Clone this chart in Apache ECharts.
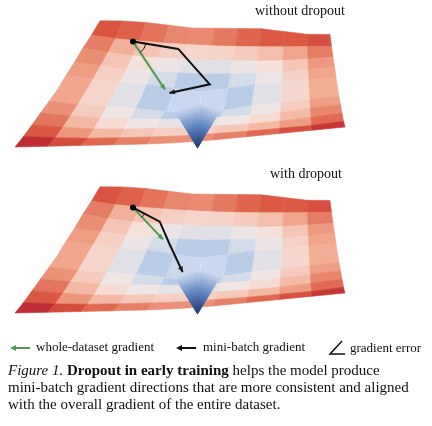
<!DOCTYPE html>
<html><head><meta charset="utf-8">
<script src="https://cdn.jsdelivr.net/npm/echarts@6/dist/echarts.min.js"></script>
<style>html,body{margin:0;background:#fff}#main{width:432px;height:426px}</style>
</head><body><div id="main"></div>
<script>
// loss surface heights, rows = back -> front, cols = left -> right
var heights = [
 [.45,.5,.5,.45,.4,.45,.5,.55,.5,.45,.5],
 [.4,.3,.25,.22,.2,.2,.22,.25,.3,.35,.4],
 [.4,.25,.15,.1,.08,.06,.08,.1,.15,.25,.35],
 [.35,.22,.1,.05,0,-.02,0,.05,.1,.2,.35],
 [.35,.2,.08,0,-.08,-.15,-.08,0,.08,.2,.3],
 [.3,.2,.06,-.02,-.15,-1.1,-.15,-.02,.06,.18,.3],
 [.35,.2,.08,0,-.08,-.15,-.08,0,.08,.2,.3],
 [.4,.25,.12,.05,0,-.02,0,.05,.12,.25,.35],
 [.45,.3,.18,.12,.1,.08,.1,.12,.18,.28,.4],
 [.5,.38,.3,.25,.22,.2,.22,.25,.3,.35,.45],
 [.6,.55,.5,.45,.4,.38,.4,.45,.5,.55,.6]
];
// gradient paths in surface (u, v) coordinates
var wholeNoDrop = [[0.2,0.2],[0.4,0.6]];
var miniNoDrop = [[0.2,0.2],[0.39,0.25],[0.55,0.56],[0.42,0.63]];
var wholeDrop = [[0.2,0.2],[0.37,0.46]];
var miniDrop = [[0.2,0.2],[0.33,0.31],[0.4,0.5],[0.48,0.75]];
var titles = ['without dropout', 'with dropout'];

var stops = [[-0.45,[25,45,105]],[-0.2,[80,120,185]],[-0.05,[195,212,236]],[0.08,[246,232,228]],[0.25,[242,172,146]],[0.4,[220,90,68]],[0.55,[180,28,45]]];
function colorOf(h){
	if(h<=stops[0][0]) h=stops[0][0];
	for(var i=1;i<stops.length;i++){
		if(h<=stops[i][0]||i==stops.length-1){
			var a=stops[i-1],b=stops[i],t=Math.min(1,(h-a[0])/(b[0]-a[0]));
			var c=a[1].map(function(x,k){return Math.round(x+(b[1][k]-x)*t)});
			return 'rgb('+c.join(',')+')';
		}
	}
}
var A=[100,32],B=[330,47],C=[15,162],D=[345,142];
function proj(u,v,h,dy){
	var x=(1-u)*(1-v)*A[0]+u*(1-v)*B[0]+(1-u)*v*C[0]+u*v*D[0];
	var y=(1-u)*(1-v)*A[1]+u*(1-v)*B[1]+(1-u)*v*C[1]+u*v*D[1];
	return [x, y-(h>0?h*25:h*48)+dy];
}
var n=heights.length-1, mid=n/2;
var cells=[];
for(var r=0;r<n;r++) for(var c=0;c<n;c++) cells.push([r,c]);
// funnel cells touch the lowest vertex; draw them last, front ones first
var funnel=[[mid,mid-1],[mid,mid],[mid-1,mid-1],[mid-1,mid]];

function cellShape(r,c,dy,funnelCell){
	var pts=[[r,c],[r,c+1],[r+1,c+1],[r+1,c]].map(function(q){return proj(q[1]/n,q[0]/n,heights[q[0]][q[1]],dy)});
	var h=(heights[r][c]+heights[r][c+1]+heights[r+1][c]+heights[r+1][c+1])/4;
	var fill=colorOf(h);
	if(funnelCell){
		var cp=proj(0.5,0.5,heights[mid][mid],dy);
		var far=pts.reduce(function(s,p){return [s[0]+p[0]/4,s[1]+p[1]/4]},[0,0]);
		fill=new echarts.graphic.LinearGradient(cp[0],cp[1],far[0],far[1],
			[{offset:0,color:'#1c2f6b'},{offset:0.5,color:'#5b82bd'},{offset:1,color:'#c9d8ee'}],true);
	}
	return {type:'polygon',shape:{points:pts},style:{fill:fill,stroke:funnelCell?null:fill,lineWidth:0.6}};
}
function surface(dy){
	return {type:'custom',coordinateSystem:'none',data:cells,silent:true,
		renderItem:function(p,api){
			var r=api.value(0),c=api.value(1);
			var isF=funnel.some(function(f){return f[0]==r&&f[1]==c});
			if(isF) return {type:'group',children:[]};
			return cellShape(r,c,dy,false);
		}};
}
function funnelSeries(dy){
	return {type:'custom',coordinateSystem:'none',data:funnel,silent:true,z:3,
		renderItem:function(p,api){return cellShape(api.value(0),api.value(1),dy,true)}};
}
function toScreen(q,dy){var p=proj(q[0],q[1],0,dy);return [p[0],p[1]-18];}
function arrow(path,dy,color,dot){
	return {type:'custom',coordinateSystem:'none',data:[0],silent:true,z:5,
		renderItem:function(){
			var pts=path.map(function(q){return toScreen(q,dy)});
			var a=pts[pts.length-2],b=pts[pts.length-1];
			var ang=Math.atan2(b[1]-a[1],b[0]-a[0]),L=6,w=0.45;
			var head=[b,[b[0]-L*Math.cos(ang-w),b[1]-L*Math.sin(ang-w)],[b[0]-L*Math.cos(ang+w),b[1]-L*Math.sin(ang+w)]];
			var ch=[{type:'polyline',shape:{points:pts},style:{stroke:color,lineWidth:2,fill:null}},
				{type:'polygon',shape:{points:head},style:{fill:color}}];
			if(dot) ch.push({type:'circle',shape:{cx:pts[0][0],cy:pts[0][1],r:3},style:{fill:'#000'}});
			return {type:'group',children:ch};
		}};
}
// small arc marking the angle between whole-dataset and first mini-batch step
function errorArc(whole,mini,dy){
	return {type:'custom',coordinateSystem:'none',data:[0],silent:true,z:6,
		renderItem:function(){
			var o=toScreen(whole[0],dy),g=toScreen(whole[1],dy),m=toScreen(mini[1],dy);
			var a1=Math.atan2(m[1]-o[1],m[0]-o[0]),a2=Math.atan2(g[1]-o[1],g[0]-o[0]);
			return {type:'arc',shape:{cx:o[0],cy:o[1],r:13,startAngle:a1,endAngle:a2},style:{stroke:'#111',lineWidth:1,fill:null}};
		}};
}
var serif='"Liberation Serif","DejaVu Serif",serif';
var chart=echarts.init(document.getElementById('main'));
chart.setOption({
	backgroundColor:'#fff',animation:false,
	series:[surface(0),funnelSeries(0),arrow(wholeNoDrop,0,'#4f9a52'),arrow(miniNoDrop,0,'#111',true),errorArc(wholeNoDrop,miniNoDrop,0),
		surface(166),funnelSeries(166),arrow(wholeDrop,166,'#4f9a52'),arrow(miniDrop,166,'#111',true),errorArc(wholeDrop,miniDrop,166)],
	graphic:[
		{type:'text',left:255,top:4,style:{text:titles[0],font:'14px '+serif,fill:'#111'}},
		{type:'text',left:270,top:167,style:{text:titles[1],font:'14px '+serif,fill:'#111'}},
		{type:'line',shape:{x1:12,y1:348,x2:30,y2:348},style:{stroke:'#4f9a52',lineWidth:2}},
		{type:'polygon',shape:{points:[[10,348],[16,345],[16,351]]},style:{fill:'#4f9a52'}},
		{type:'text',left:36,top:341,style:{text:'whole-dataset gradient',font:'13px '+serif,fill:'#111'}},
		{type:'line',shape:{x1:178,y1:348,x2:196,y2:348},style:{stroke:'#111',lineWidth:2}},
		{type:'polygon',shape:{points:[[176,348],[182,345],[182,351]]},style:{fill:'#111'}},
		{type:'text',left:203,top:341,style:{text:'mini-batch gradient',font:'13px '+serif,fill:'#111'}},
		{type:'polyline',shape:{points:[[342,341],[330,354],[345,354]]},style:{stroke:'#111',lineWidth:1.5,fill:null}},
		{type:'text',left:350,top:342,style:{text:'gradient error',font:'13px '+serif,fill:'#111'}},
		{type:'text',left:8,top:363,style:{
			text:'{i|Figure 1.} {b|Dropout in early training} helps the model produce\nmini-batch gradient directions that are more consistent and aligned\nwith the overall gradient of the entire dataset.',
			font:'15px '+serif,fill:'#111',lineHeight:17,
			rich:{i:{fontStyle:'italic',font:'italic 15px '+serif},b:{font:'bold 15px '+serif}}}}
	]
});
</script></body></html>
